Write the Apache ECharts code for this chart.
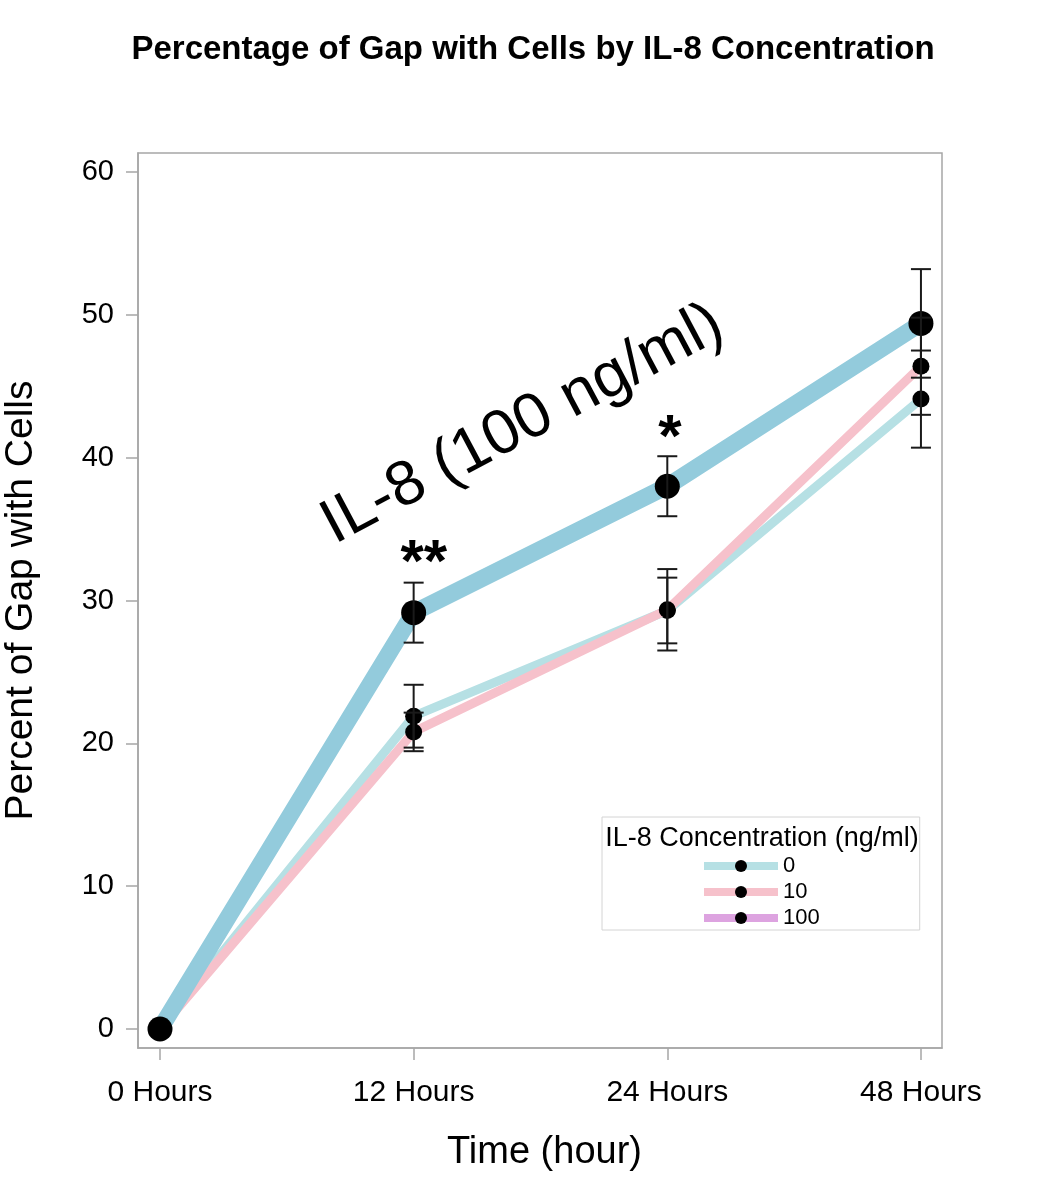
<!DOCTYPE html>
<html>
<head>
<meta charset="utf-8">
<script src="https://cdn.jsdelivr.net/npm/echarts@6/dist/echarts.min.js"></script>
<style>html,body{margin:0;padding:0;background:#fff}#c{width:1038px;height:1185px}</style>
</head>
<body>
<div id="c"></div>
<script>
// ---- data ----
const timeLabels = ['0 Hours', '12 Hours', '24 Hours', '48 Hours'];
const timeIndex = [0, 1, 2, 3];
const seriesNames = ['0', '10', '100'];
const gap0 = [0, 21.9, 29.3, 44.1];
const err0 = [0, 2.2, 2.3, 3.4];
const gap10 = [0, 20.8, 29.35, 46.4];
const err10 = [0, 1.35, 2.85, 3.4];
const gap100 = [0, 29.15, 38.0, 49.4];
const err100 = [0, 2.1, 2.1, 3.8];
const yTicks = [0, 10, 20, 30, 40, 50, 60];

const FONT = 'Liberation Sans';
const AXIS_GREY = '#a6a6a6';
const lineColors = ['#b6e0e4', '#f6c1cb', '#93cbdc'];
const legendColors = ['#b6e0e4', '#f6c1cb', '#dda3e0'];

function pts(vals) { return vals.map((v, i) => [timeIndex[i], v]); }

function errorSeries(vals, errs, name) {
  const data = vals.map((v, i) => [timeIndex[i], v - errs[i], v + errs[i]]).filter((d, i) => errs[i] > 0);
  return {
    type: 'custom', name: name + '_err', z: 5, silent: true,
    data: data,
    renderItem: function (params, api) {
      const x = api.value(0);
      const lo = api.coord([x, api.value(1)]);
      const hi = api.coord([x, api.value(2)]);
      const hw = 10;
      const st = { stroke: '#1a1a1a', lineWidth: 2 };
      return {
        type: 'group', children: [
          { type: 'line', shape: { x1: lo[0], y1: lo[1], x2: hi[0], y2: hi[1] }, style: st },
          { type: 'line', shape: { x1: lo[0] - hw, y1: lo[1], x2: lo[0] + hw, y2: lo[1] }, style: st },
          { type: 'line', shape: { x1: hi[0] - hw, y1: hi[1], x2: hi[0] + hw, y2: hi[1] }, style: st }
        ]
      };
    }
  };
}

const chart = echarts.init(document.getElementById('c'), null, { renderer: 'canvas' });

const option = {
  backgroundColor: '#fff',
  animation: false,
  textStyle: { fontFamily: FONT },
  title: [
    {
      text: 'Percentage of Gap with Cells by IL-8 Concentration',
      left: 528, textAlign: 'center', top: 28,
      textStyle: { fontFamily: FONT, fontWeight: 'bold', fontSize: 33, color: '#000' }
    },
    {
      text: 'IL-8 Concentration (ng/ml)',
      left: 757, textAlign: 'center', top: 820,
      textStyle: { fontFamily: FONT, fontWeight: 'normal', fontSize: 27, color: '#000' }
    }
  ],
  legend: {
    orient: 'vertical',
    left: 602, top: 817,
    padding: [38, 100, 1, 98],
    borderColor: '#d4d4d4', borderWidth: 1,
    itemWidth: 74, itemHeight: 15, itemGap: 4,
    textStyle: { fontFamily: FONT, fontSize: 22, color: '#000' },
    data: seriesNames.map((n, i) => ({
      name: n,
      itemStyle: { color: '#000' },
      lineStyle: { color: legendColors[i], width: 8 }
    }))
  },
  grid: {
    left: 138, right: 96, top: 153, bottom: 137,
    show: true, borderColor: AXIS_GREY, borderWidth: 1.5, containLabel: false,
    outerBoundsMode: 'none'
  },
  xAxis: {
    type: 'value', min: -0.0867, max: 3.083,
    name: 'Time (hour)', nameLocation: 'middle', nameGap: 86,
    nameTextStyle: { fontFamily: FONT, fontSize: 38, color: '#000', padding: [0, 0, 0, 9] },
    axisLine: { show: true, onZero: false, lineStyle: { color: AXIS_GREY, width: 1.5 } },
    axisTick: { show: true, length: 12, lineStyle: { color: AXIS_GREY, width: 1.5 }, customValues: timeIndex },
    axisLabel: {
      customValues: timeIndex, margin: 30,
      fontFamily: FONT, fontSize: 30, color: '#000',
      formatter: function (v) { return timeLabels[Math.round(v)]; }
    },
    splitLine: { show: false }
  },
  yAxis: {
    type: 'value', min: -1.33, max: 61.33,
    name: 'Percent of Gap with Cells', nameLocation: 'middle', nameGap: 97, nameRotate: 90,
    nameTextStyle: { fontFamily: FONT, fontSize: 39, color: '#000' },
    axisLine: { show: true, onZero: false, lineStyle: { color: AXIS_GREY, width: 1.5 } },
    axisTick: { show: true, length: 12, lineStyle: { color: AXIS_GREY, width: 1.5 }, customValues: yTicks },
    axisLabel: { customValues: yTicks, margin: 24, fontFamily: FONT, fontSize: 29, color: '#000' },
    splitLine: { show: false }
  },
  series: [
    {
      name: seriesNames[0], type: 'line', z: 2, data: pts(gap0),
      lineStyle: { color: lineColors[0], width: 9 },
      itemStyle: { color: '#000' }, symbol: 'circle', symbolSize: 17, showSymbol: true
    },
    {
      name: seriesNames[1], type: 'line', z: 3, data: pts(gap10),
      lineStyle: { color: lineColors[1], width: 9 },
      itemStyle: { color: '#000' }, symbol: 'circle', symbolSize: 17, showSymbol: true
    },
    {
      name: seriesNames[2], type: 'line', z: 4, data: pts(gap100),
      lineStyle: { color: lineColors[2], width: 17 },
      itemStyle: { color: '#000' }, symbol: 'circle', symbolSize: 25, showSymbol: true
    },
    errorSeries(gap0, err0, seriesNames[0]),
    errorSeries(gap10, err10, seriesNames[1]),
    errorSeries(gap100, err100, seriesNames[2])
  ]
};
chart.setOption(option);

// annotations anchored to data coordinates
const annotations = [
  { text: '**', at: [1.04, 32.5], size: 60, weight: 'bold', rot: 0 },
  { text: '*', at: [2.01, 41.3], size: 60, weight: 'bold', rot: 0 },
  { text: 'IL-8 (100 ng/ml)', at: [1.43, 42.3], size: 63, weight: 'normal', rot: 28 }
];
chart.setOption({
  graphic: annotations.map(a => {
    const p = chart.convertToPixel({ gridIndex: 0 }, a.at);
    return {
      type: 'text', x: p[0], y: p[1], rotation: a.rot * Math.PI / 180, z: 20,
      style: { text: a.text, fontFamily: FONT, fontSize: a.size, fontWeight: a.weight, fill: '#000', align: 'center', verticalAlign: 'middle' }
    };
  })
});
</script>
</body>
</html>
